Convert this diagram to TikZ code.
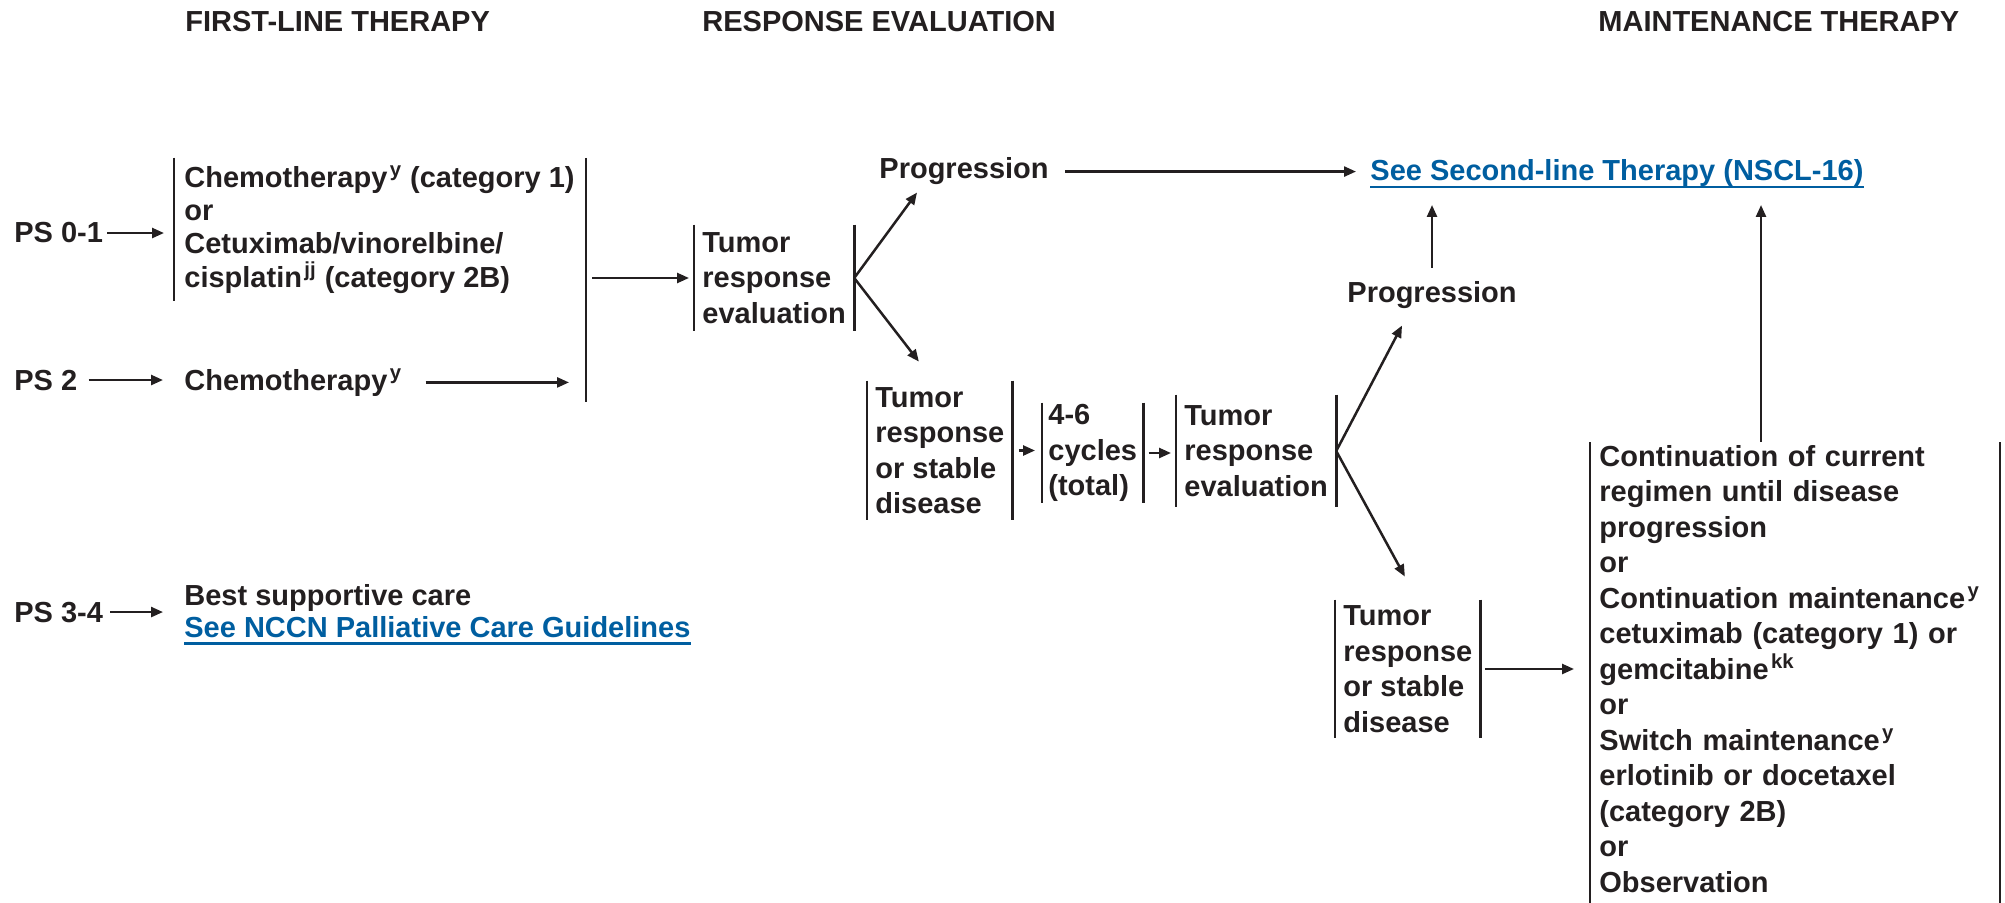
\documentclass[tikz,border=0pt]{standalone}
\usepackage{fontspec}
\setmainfont{Liberation Sans}
\usetikzlibrary{arrows.meta,calc}
\definecolor{ink}{HTML}{231F20}
\definecolor{linkblue}{HTML}{005EA0}
\newcommand{\fn}[1]{\kern1.2pt\textsuperscript{#1}}
\begin{document}
\begin{tikzpicture}[x=0.5pt,y=-0.5pt,
  every node/.style={inner sep=0pt, text=ink, font=\bfseries\fontsize{14.5pt}{17.75pt}\selectfont},
  txt/.style={anchor=base west},
  barline/.style={draw=ink, line width=1.3pt},
  ulline/.style={draw=linkblue, line width=1.1pt},
  link/.style={anchor=base west, text=linkblue,
    append after command={([yshift=-3.2pt]\tikzlastnode.base west) edge[ulline] ([yshift=-3.2pt]\tikzlastnode.base east)}},
  arr/.style={draw=ink, line width=1.25pt, -{Triangle[length=6pt,width=5pt]}},
  lbar/.style={append after command={(\tikzlastnode.north west) edge[barline] (\tikzlastnode.south west)}},
  box/.style={align=left, inner xsep=4pt, inner ysep=0pt, anchor=west,
    append after command={(\tikzlastnode.north west) edge[barline] (\tikzlastnode.south west)
                          (\tikzlastnode.north east) edge[barline] (\tikzlastnode.south east)}}]
\useasboundingbox (0,0) rectangle (2005,903);

% column headers
\node[txt] (h1) at (185,32) {FIRST-LINE THERAPY};
\node[txt] (h2) at (702,32) {RESPONSE EVALUATION};
\node[txt] (h3) at (1598,32) {MAINTENANCE THERAPY};

% performance status
\node[txt] (ps01) at (14,243) {PS 0-1};
\node[txt] (ps2) at (14,390) {PS 2};
\node[txt] (ps34) at (14,622) {PS 3-4};

% first-line therapy
\node[align=left, anchor=west, inner xsep=5pt, minimum height=71.5pt,
      font=\bfseries\fontsize{14.5pt}{16.67pt}\selectfont, lbar] (fl) at (174,229.5)
  {Chemotherapy\fn{y} (category 1)\\or\\Cetuximab/vinorelbine/\\cisplatin\fn{jj} (category 2B)};
\node[txt] (chemo2) at (184,390) {Chemotherapy\fn{y}};
\coordinate (jtop) at (586,158);
\coordinate (jbot) at (586,402);
\draw[barline] (jtop) -- (jbot);

\node[txt] (bsc) at (184,605) {Best supportive care};
\node[link] (pal) at (184,637) {See NCCN Palliative Care Guidelines};

% response evaluation
\node[box, minimum height=53pt] (t1) at (694,278) {Tumor\\response\\evaluation};
\node[txt] (p1) at (879,179) {Progression};
\node[link] (l2) at (1370,181) {See Second-line Therapy (NSCL-16)};
\node[box, minimum height=69.5pt] (t2) at (867,450.5) {Tumor\\response\\or stable\\disease};
\node[box, inner xsep=3pt, minimum height=50pt] (c46) at (1042,453) {4-6\\cycles\\(total)};
\node[box, minimum height=56pt] (t3) at (1176,451) {Tumor\\response\\evaluation};
\node[txt] (p2) at (1347,303) {Progression};
\node[box, minimum height=69pt] (t4) at (1335,669) {Tumor\\response\\or stable\\disease};

% maintenance therapy
\node[align=left, anchor=north west, inner xsep=4.5pt, inner ysep=1.5pt, text width=195.5pt] (mt) at (1590,442)
  {Continuation of current\\regimen until disease\\progression\\or\\Continuation maintenance\fn{y}\\cetuximab (category 1) or\\gemcitabine\fn{kk}\\or\\Switch maintenance\fn{y}\\erlotinib or docetaxel\\(category 2B)\\or\\Observation};
\coordinate (pagebot) at (0,903);
\draw[barline] (mt.north west) -- (mt.north west |- pagebot);
\draw[barline] (mt.north east) -- (mt.north east |- pagebot);

% connectors
\coordinate (lb) at (0,205);
\draw[arr, shorten <=2pt, shorten >=5pt] (ps01.east) -- (ps01.east -| fl.west);
\draw[arr, shorten <=5.5pt, shorten >=10.5pt] (ps2.east) -- (ps2.east -| chemo2.west);
\draw[arr, shorten <=11.5pt, shorten >=8.5pt] (chemo2.east) -- (chemo2.east -| jtop);
\draw[arr, shorten <=3pt, shorten >=2.5pt] (jtop |- t1.west) -- (t1.west);
\draw[arr] (t1.east) -- ($(p1.south west)+(38,7)$);
\draw[arr] (t1.east) -- ($(t2.north)+(-21,-19)$);
\draw[arr, shorten <=8pt, shorten >=7pt] (p1.east) -- (p1.east -| l2.west);
\draw[arr, shorten <=3pt, shorten >=3.5pt] (t2.east) -- (t2.east -| c46.west);
\draw[arr, shorten <=2.5pt, shorten >=2.5pt] (c46.east) -- (c46.east -| t3.west);
\draw[arr] (t3.east) -- ($(p2.south west)+(55,16)$);
\draw[arr] (t3.east) -- ($(t4.north)+(-3,-23)$);
\draw[arr, shorten <=7pt] (p2.north) -- (p2.north |- lb);
\draw[arr, shorten <=2pt, shorten >=8pt] (t4.east) -- (t4.east -| mt.west);
\coordinate (bigup) at ($(mt.north west)+(171,0)$);
\draw[arr] (bigup) -- (bigup |- lb);
\draw[arr, shorten <=3.5pt, shorten >=10.5pt] (ps34.east) -- (ps34.east -| bsc.west);
\end{tikzpicture}
\end{document}
